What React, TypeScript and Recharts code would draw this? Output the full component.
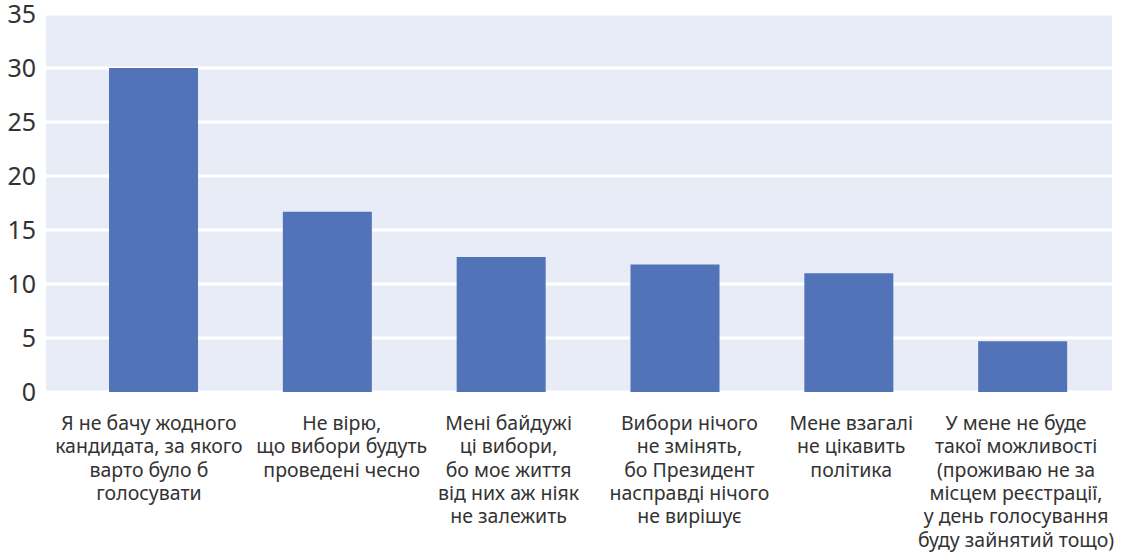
import React from 'react'
import { BarChart, Bar, XAxis, YAxis, CartesianGrid } from 'recharts'

const categories = [
  'Я не бачу жодного\nкандидата, за якого\nварто було б\nголосувати',
  'Не вірю,\nщо вибори будуть\nпроведені чесно',
  'Мені байдужі\nці вибори,\nбо моє життя\nвід них аж ніяк\nне залежить',
  'Вибори нічого\nне змінять,\nбо Президент\nнасправді нічого\nне вирішує',
  'Мене взагалі\nне цікавить\nполітика',
  'У мене не буде\nтакої можливості\n(проживаю не за\nмісцем реєстрації,\nу день голосування\nбуду зайнятий тощо)',
]
const values = [30, 16.7, 12.5, 11.8, 11.0, 4.7]
const yTicks = [0, 5, 10, 15, 20, 25, 30, 35]

// labels in the original are not quite centred under their bars
const labelShift = [-5, 14, 7, 14, 2, -7]

const data = categories.map((c, i) => ({ name: c, value: values[i] }))

const FONT = '"Noto Sans", "Open Sans", sans-serif'

function CategoryTick(props: any) {
  const { x, y, payload, index } = props
  const lines = String(payload.value).split('\n')
  const cx = x + (labelShift[index] ?? 0)
  return (
    <text x={cx} y={y} textAnchor="middle" fill="#333" fontSize={19.5} fontFamily={FONT}>
      {lines.map((l, i) => (
        <tspan key={i} x={cx} dy={i === 0 ? 30 : 23.3}>
          {l}
        </tspan>
      ))}
    </text>
  )
}

export default function App() {
  return (
    <div style={{ position: 'absolute', left: 0, top: 0, background: '#fff' }}>
      <BarChart
        width={1123}
        height={553}
        data={data}
        margin={{ top: 14, right: 11, left: 0, bottom: 0 }}
        barSize={89}
      >
        <CartesianGrid vertical={false} stroke="#fff" strokeWidth={3} fill="#e8ecf7" />
        <XAxis
          dataKey="name"
          interval={0}
          axisLine={false}
          tickLine={false}
          height={161}
          padding={{ left: 21, right: 2 }}
          tick={<CategoryTick />}
        />
        <YAxis
          domain={[0, 35]}
          ticks={yTicks}
          axisLine={false}
          tickLine={false}
          width={46}
          tickMargin={4}
          tick={{ fill: '#333', fontSize: 25, fontFamily: FONT }}
        />
        <Bar dataKey="value" fill="#5273b7" isAnimationActive={false} />
      </BarChart>
    </div>
  )
}
